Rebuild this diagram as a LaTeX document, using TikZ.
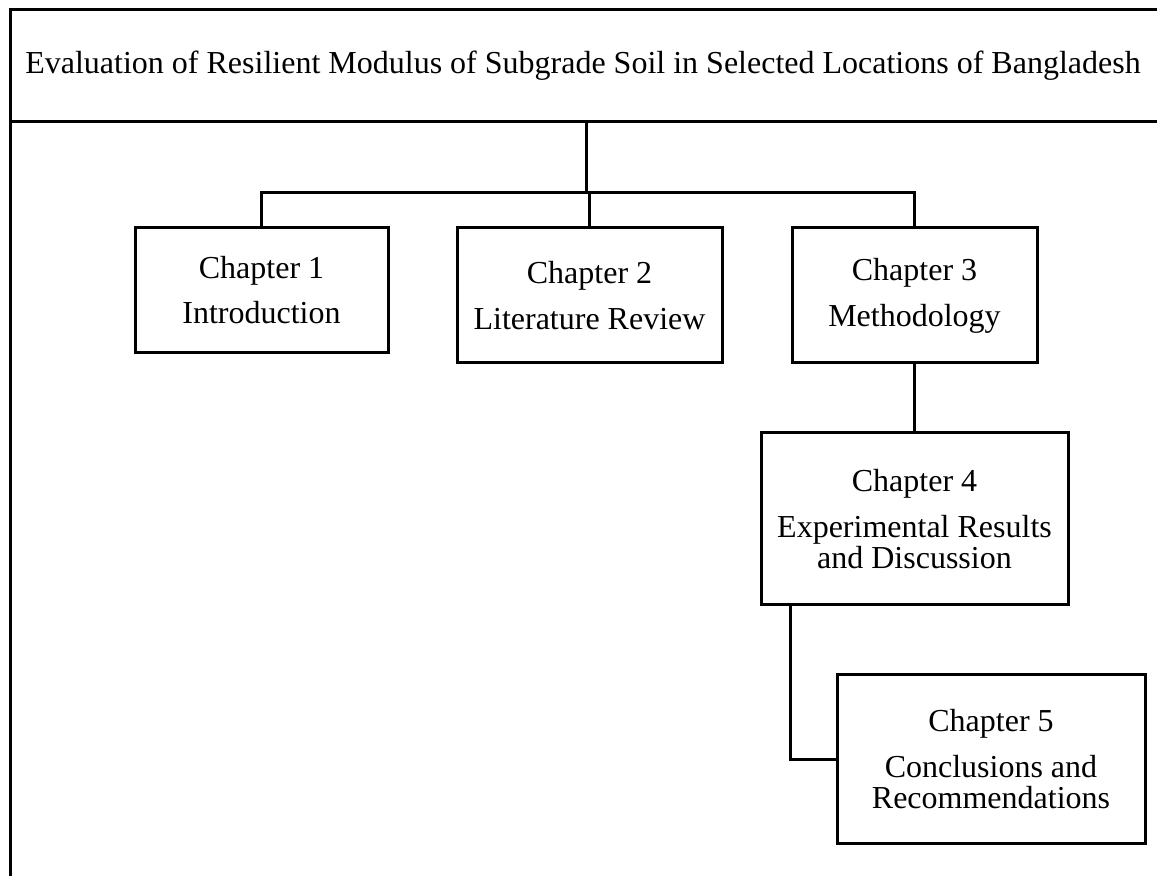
\documentclass[tikz,border=0pt]{standalone}
\usepackage{fontspec}
\setmainfont{Liberation Serif}
\usetikzlibrary{positioning, calc}

\begin{document}
\begin{tikzpicture}[x=0.5pt, y=-0.5pt, line width=1.5pt,
    font=\fontsize{16}{15.5}\selectfont,
    chapbox/.style={draw, inner sep=0pt, align=center},
    titletext/.style={inner sep=0pt, align=center}]

\useasboundingbox (0,0) rectangle (1157,876);

% ── Title frame (open to the right, left side runs down the page) ──
\coordinate (frameTL) at (10,10);
\coordinate (frameTR) at (1157,10);
\coordinate (frameBL) at (10,876);
\coordinate (titleBL) at (10,122);
\coordinate (titleBR) at (1157,122);
\draw (frameTR) -- (frameTL) -- (frameBL);
\draw (titleBL) -- (titleBR);
\node[titletext] (title) at (583,66)
    {Evaluation of Resilient Modulus of Subgrade Soil in Selected Locations of Bangladesh};

% ── Chapters ──────────────────────────────────────────────────────
\node[chapbox, minimum width=126.5pt, minimum height=62.5pt] (ch1) at (261.5,290.5)
    {Chapter 1\\[7pt]Introduction};
\node[chapbox, minimum width=132.5pt, minimum height=67.5pt] (ch2) at (589.5,295.5)
    {Chapter 2\\[7.5pt]Literature Review};
\node[chapbox, minimum width=122.5pt, minimum height=67.5pt] (ch3) at (914.5,295.5)
    {Chapter 3\\[7.5pt]Methodology};
\node[chapbox, minimum width=153.5pt, minimum height=86pt] (ch4) at (914.5,519)
    {Chapter 4\\[7.5pt]Experimental Results\\and Discussion};
\node[chapbox, minimum width=154pt, minimum height=84pt] (ch5) at (991,759)
    {Chapter 5\\[7.5pt]Conclusions and\\Recommendations};

% ── Connectors ────────────────────────────────────────────────────
\coordinate (trunk) at (586,122);
\coordinate (bar) at (586,193);
\draw (trunk) -- (bar);
\draw (ch1.north) |- (bar) -| (ch3.north);
\draw (bar) -| (ch2.north);
\draw (ch3.south) -- (ch4.north);
\draw (ch4.south west) ++(31,0) |- (ch5.west);

\end{tikzpicture}
\end{document}
